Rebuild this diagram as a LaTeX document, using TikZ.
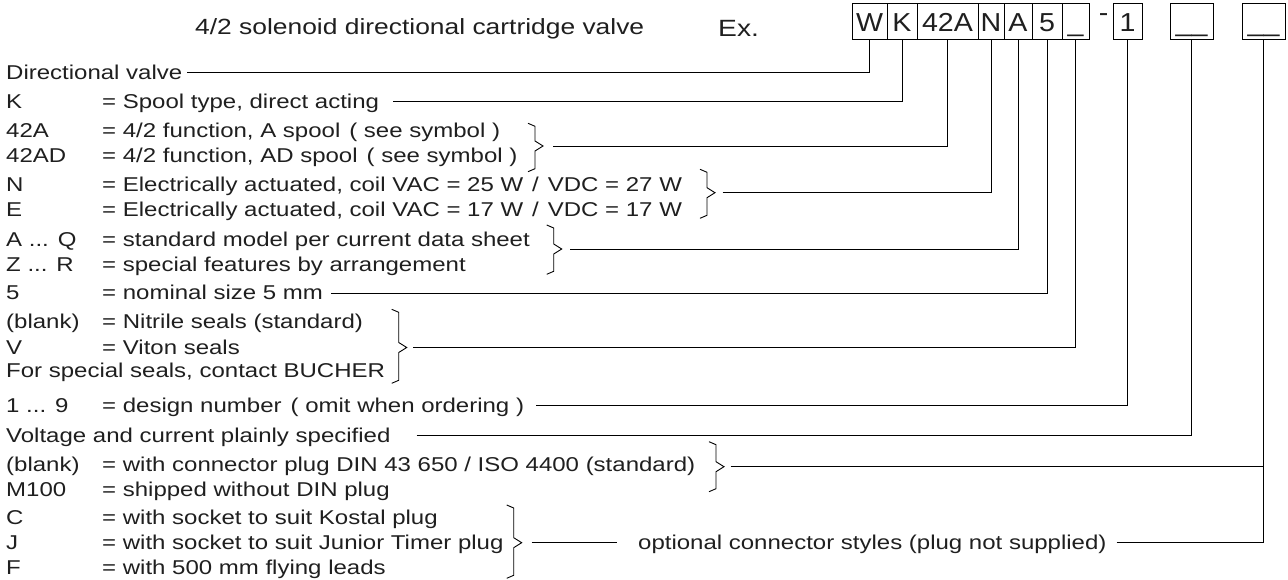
\documentclass[tikz,border=0pt]{standalone}
\usepackage{fontspec}
\setmainfont[FakeStretch=1.2]{Liberation Sans}
\newfontfamily\boxfont[FakeStretch=1.1]{Liberation Sans}
\usetikzlibrary{calc}
\newcommand\mybrace[4]{%
  \draw[brc] (#1,#2) -- (#1+7,#2+3) -- (#1+7,#3-5) -- (#1+15,#3) -- (#1+7,#3+5) -- (#1+7,#4-3) -- (#1,#4);}
\newcommand\gap{\hspace{9pt}}
\begin{document}
\begin{tikzpicture}[x=1pt,y=-1pt,
  txt/.style={anchor=base west, inner sep=0pt, font=\fontsize{20}{24}\selectfont, text=black!88},
  cell/.style={draw, line width=1pt, inner sep=0pt, minimum height=36pt, text height=22pt, text depth=2pt, font=\boxfont\fontsize{26}{30}\selectfont, text=black!88},
  conn/.style={line width=0.9pt},
  brc/.style={line width=0.9pt, line join=miter}]
\useasboundingbox (0,0) rectangle (1288,580);
% title
\node[txt, font=\fontsize{22}{26}\selectfont] (title) at (195,35) {4/2 solenoid directional cartridge valve};
\node[txt, font=\fontsize{23.5}{28}\selectfont] (ex) at (718,37) {Ex.};
% code boxes
\node[cell, minimum width=35pt] (bW) at (869.5,22) {W};
\node[cell, minimum width=30pt] (bK) at (902,22) {K};
\node[cell, minimum width=61pt] (b42) at (947.5,22) {42A};
\node[cell, minimum width=26pt] (bN) at (991,22) {N};
\node[cell, minimum width=28pt] (bA) at (1018,22) {A};
\node[cell, minimum width=30pt] (b5) at (1047,22) {5};
\node[cell, minimum width=27pt] (bU) at (1075.5,22) {\_};
\node[anchor=base, inner sep=0pt, font=\boxfont\fontsize{26}{30}\selectfont, text=black!88] (dash) at (1103.5,22) {-};
\node[cell, minimum width=29pt] (b1) at (1127.5,22) {1};
\node[cell, minimum width=43pt] (b3) at (1191.5,22) {\_\_};
\node[cell, minimum width=43pt] (b4) at (1263.5,22) {\_\_};
% rows
\node[txt] (lDV) at (6,79.2) {Directional valve};
\node[txt] (lK) at (6,108.9) {K};
\node[txt] (dK) at (102,108.9) {= Spool type, direct acting};
\node[txt] (l42A) at (6,137.7) {42A};
\node[txt] (d42A) at (102,137.7) {= 4/2 function, A spool\gap( see symbol )};
\node[txt] (l42AD) at (6,163) {42AD};
\node[txt] (d42AD) at (102,163) {= 4/2 function, AD spool\gap( see symbol )};
\node[txt] (lN) at (6,191.4) {N};
\node[txt] (dN) at (102,191.4) {= Electrically actuated, coil VAC = 25 W\gap/\gap VDC = 27 W};
\node[txt] (lE) at (6,216.4) {E};
\node[txt] (dE) at (102,216.4) {= Electrically actuated, coil VAC = 17 W\gap/\gap VDC = 17 W};
\node[txt] (lAQ) at (6,246.4) {A ... Q};
\node[txt] (dAQ) at (102,246.4) {= standard model per current data sheet};
\node[txt] (lZR) at (6,271.4) {Z ... R};
\node[txt] (dZR) at (102,271.4) {= special features by arrangement};
\node[txt] (l5) at (6,299.7) {5};
\node[txt] (d5) at (102,299.7) {= nominal size 5 mm};
\node[txt] (lbl1) at (6,328) {(blank)};
\node[txt] (dbl1) at (102,328) {= Nitrile seals (standard)};
\node[txt] (lV) at (6,354.7) {V};
\node[txt] (dV) at (102,354.7) {= Viton seals};
\node[txt] (lFS) at (6,377.2) {For special seals, contact BUCHER};
\node[txt] (l19) at (6,412.2) {1 ... 9};
\node[txt] (d19) at (102,412.2) {= design number\gap( omit when ordering )};
\node[txt] (lVC) at (6,442.7) {Voltage and current plainly specified};
\node[txt] (lbl2) at (6,471.2) {(blank)};
\node[txt] (dbl2) at (102,471.2) {= with connector plug DIN 43 650 / ISO 4400 (standard)};
\node[txt] (lM) at (6,496) {M100};
\node[txt] (dM) at (102,496) {= shipped without DIN plug};
\node[txt] (lC) at (6,524.7) {C};
\node[txt] (dC) at (102,524.7) {= with socket to suit Kostal plug};
\node[txt] (lJ) at (6,549.7) {J};
\node[txt] (dJ) at (102,549.7) {= with socket to suit Junior Timer plug};
\node[txt] (lF) at (6,574.2) {F};
\node[txt] (dF) at (102,574.2) {= with 500 mm flying leads};
\node[txt] (opt) at (638,549.9) {optional connector styles (plug not supplied)};
% braces
\mybrace{528}{123.3}{146}{171.7}
\mybrace{700}{169.3}{192.7}{218.3}
\mybrace{546.7}{225}{249}{274.3}
\mybrace{391.7}{309.3}{347.5}{383.3}
\mybrace{709}{441.7}{466.7}{491.7}
\mybrace{506.7}{505}{542.7}{578.3}
% connector start points
\coordinate (sDV) at ([shift={(5pt,7.2pt)}]lDV.base east);
\coordinate (sK) at (393,101.7);
\coordinate (s42) at (553,146);
\coordinate (sN) at (722.7,192.7);
\coordinate (sA) at (570,249);
\coordinate (s5) at ([shift={(8pt,6.4pt)}]d5.base east);
\coordinate (sU) at (413.3,347.5);
\coordinate (s1) at ([shift={(12pt,7.2pt)}]d19.base east);
\coordinate (sVC) at (416.7,435.5);
\coordinate (sB2) at (730.7,466.7);
\coordinate (sO1) at (531.7,542.7);
\coordinate (eO1) at (616.7,542.7);
\coordinate (sO2) at ([shift={(10pt,7.2pt)}]opt.base east);
% connectors
\draw[conn] (sDV) -| (bW.south);
\draw[conn] (sK) -| (bK.south);
\draw[conn] (s42) -| (b42.south);
\draw[conn] (sN) -| (bN.south);
\draw[conn] (sA) -| (bA.south);
\draw[conn] (s5) -| (b5.south);
\draw[conn] (sU) -| (bU.south);
\draw[conn] (s1) -| (b1.south);
\draw[conn] (sVC) -| (b3.south);
\draw[conn] (sB2) -- (sB2 -| b4.south);
\draw[conn] (sO1) -- (eO1);
\draw[conn] (sO2) -| (b4.south);
\end{tikzpicture}
\end{document}
